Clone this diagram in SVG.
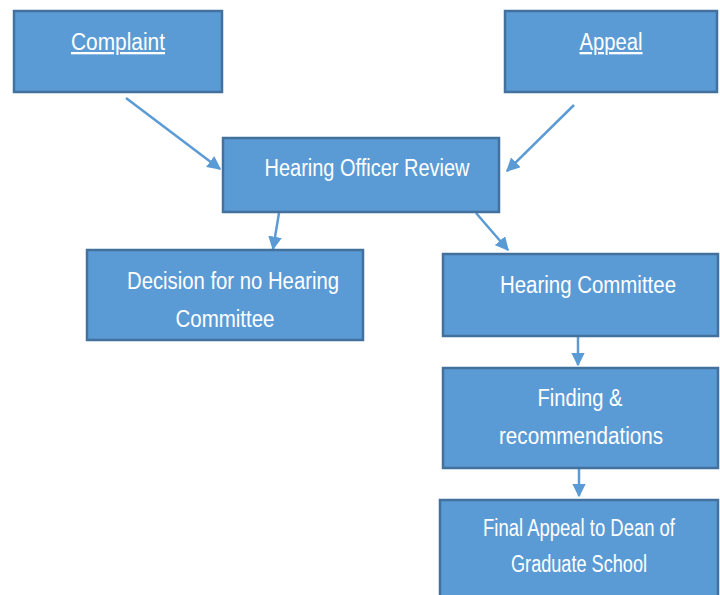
<svg xmlns="http://www.w3.org/2000/svg" width="720" height="595" viewBox="0 0 720 595">
<style>
.box{fill:#5B9BD5;stroke:#41719C;stroke-width:2.5}
.t{font-family:"Liberation Sans",Arial,sans-serif;font-size:23px;fill:#FFFFFF;text-anchor:middle}
.u{text-decoration:underline}
.c{stroke:#5B9BD5;stroke-width:2.5;fill:none;marker-end:url(#ah)}
</style>
<defs>
<marker id="ah" viewBox="0 0 10 10" refX="9" refY="5" markerWidth="5.5" markerHeight="5.5" orient="auto" markerUnits="strokeWidth">
<path d="M0,0 L10,5 L0,10 Z" fill="#5B9BD5"/>
</marker>
</defs>
<g id="connectors">
<line class="c" x1="126" y1="98" x2="220" y2="169"/>
<line class="c" x1="574" y1="105" x2="507" y2="171"/>
<line class="c" x1="279" y1="213" x2="273" y2="249"/>
<line class="c" x1="476" y1="213" x2="508" y2="250"/>
<line class="c" x1="578" y1="337" x2="578" y2="365"/>
<line class="c" x1="579" y1="469" x2="579" y2="496"/>
</g>
<g id="complaint">
<rect class="box" x="14" y="11" width="208" height="81"/>
<text class="t u" x="118" y="50" textLength="94" lengthAdjust="spacingAndGlyphs">Complaint</text>
</g>
<g id="appeal">
<rect class="box" x="505" y="11" width="212" height="81"/>
<text class="t u" x="611" y="50" textLength="63" lengthAdjust="spacingAndGlyphs">Appeal</text>
</g>
<g id="hearing-officer-review">
<rect class="box" x="223" y="138" width="276" height="74"/>
<text class="t" x="367" y="176" textLength="205" lengthAdjust="spacingAndGlyphs">Hearing Officer Review</text>
</g>
<g id="decision">
<rect class="box" x="87" y="250" width="276" height="90"/>
<text class="t" x="233" y="289" textLength="212" lengthAdjust="spacingAndGlyphs">Decision for no Hearing</text>
<text class="t" x="225" y="327" textLength="99" lengthAdjust="spacingAndGlyphs">Committee</text>
</g>
<g id="hearing-committee">
<rect class="box" x="443" y="254" width="275" height="82"/>
<text class="t" x="588" y="293" textLength="176" lengthAdjust="spacingAndGlyphs">Hearing Committee</text>
</g>
<g id="finding">
<rect class="box" x="443" y="368" width="275" height="100"/>
<text class="t" x="580" y="406" textLength="85" lengthAdjust="spacingAndGlyphs">Finding &amp;</text>
<text class="t" x="581" y="444" textLength="164" lengthAdjust="spacingAndGlyphs">recommendations</text>
</g>
<g id="final-appeal">
<rect class="box" x="440" y="500" width="278" height="100"/>
<text class="t" x="579" y="536" textLength="192" lengthAdjust="spacingAndGlyphs">Final Appeal to Dean of</text>
<text class="t" x="579" y="572" textLength="136" lengthAdjust="spacingAndGlyphs">Graduate School</text>
</g>
</svg>
